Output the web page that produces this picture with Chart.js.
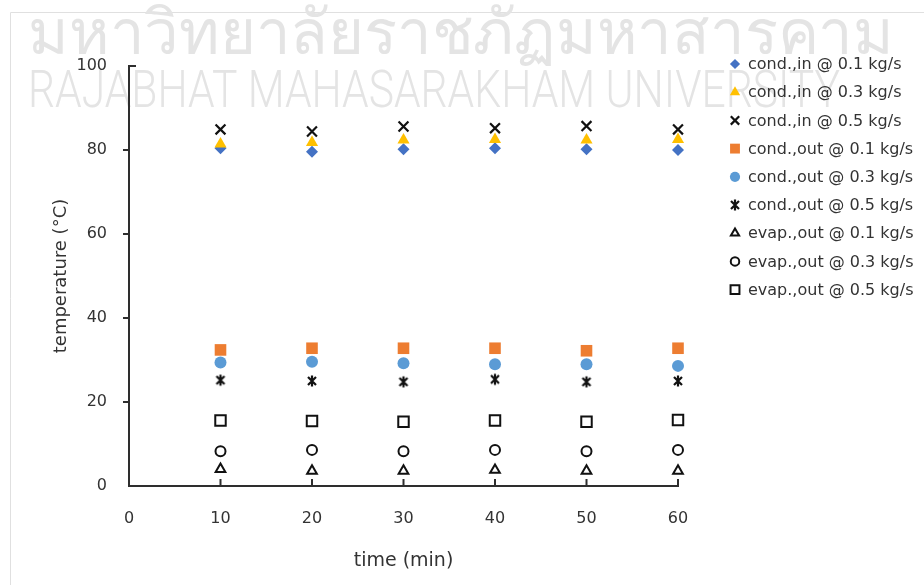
<!DOCTYPE html>
<html>
<head>
<meta charset="utf-8">
<script src="https://cdn.jsdelivr.net/npm/chart.js@4/dist/chart.umd.min.js"></script>
<style>
  html, body { margin: 0; padding: 0; background: #ffffff; }
  #wrap { width: 924px; height: 585px; position: relative; }
</style>
</head>
<body>
<div id="wrap"><canvas id="c" width="924" height="585"></canvas></div>
<script>
// time of measurement (min)
const times = [10, 20, 30, 40, 50, 60];

// temperatures (°C)
const condIn01  = [80.4, 79.6, 80.2, 80.4, 80.2, 80.0];
const condIn03  = [81.4, 81.8, 82.4, 82.5, 82.4, 82.5];
const condIn05  = [84.9, 84.4, 85.6, 85.2, 85.7, 84.9];
const condOut01 = [32.4, 32.8, 32.8, 32.8, 32.2, 32.8];
const condOut03 = [29.4, 29.6, 29.2, 29.0, 29.0, 28.6];
const condOut05 = [25.2, 25.0, 24.8, 25.4, 24.8, 25.0];
const evapOut01 = [4.0, 3.6, 3.6, 3.8, 3.6, 3.6];
const evapOut03 = [8.3, 8.6, 8.3, 8.6, 8.3, 8.6];
const evapOut05 = [15.6, 15.5, 15.3, 15.6, 15.3, 15.7];

const seriesLabels = [
  'cond.,in @ 0.1 kg/s', 'cond.,in @ 0.3 kg/s', 'cond.,in @ 0.5 kg/s',
  'cond.,out @ 0.1 kg/s', 'cond.,out @ 0.3 kg/s', 'cond.,out @ 0.5 kg/s',
  'evap.,out @ 0.1 kg/s', 'evap.,out @ 0.3 kg/s', 'evap.,out @ 0.5 kg/s'
];
const seriesValues = [condIn01, condIn03, condIn05, condOut01, condOut03, condOut05, evapOut01, evapOut03, evapOut05];

const xTicks = [0, 10, 20, 30, 40, 50, 60];
const yTicks = [0, 20, 40, 60, 80, 100];

// asterisk marker: an X crossed by a vertical stroke
function makeStar() {
  const cv = document.createElement('canvas');
  cv.width = 14; cv.height = 14;
  const g = cv.getContext('2d');
  g.strokeStyle = '#111';
  g.lineWidth = 2.2;
  g.lineCap = 'butt';
  g.beginPath();
  g.moveTo(3, 3); g.lineTo(11, 11);
  g.moveTo(11, 3); g.lineTo(3, 11);
  g.moveTo(7, 1.5); g.lineTo(7, 12.5);
  g.stroke();
  return cv;
}
const starImg = makeStar();

const styles = [
  { pointStyle: 'rectRot',  radius: 6,   bg: '#4472C4', border: '#4472C4', bw: 0 },
  { pointStyle: 'triangle', radius: 7,   bg: '#FFC000', border: '#FFC000', bw: 0 },
  { pointStyle: 'crossRot', radius: 7,   bg: '#111111', border: '#111111', bw: 2.2 },
  { pointStyle: 'rect',     radius: 8.2, bg: '#ED7D31', border: '#ED7D31', bw: 0 },
  { pointStyle: 'circle',   radius: 6,   bg: '#5B9BD5', border: '#5B9BD5', bw: 0 },
  { pointStyle: starImg,    radius: 7,   bg: '#111111', border: '#111111', bw: 0 },
  { pointStyle: 'triangle', radius: 5.6, bg: '#ffffff', border: '#111111', bw: 2 },
  { pointStyle: 'circle',   radius: 5,   bg: '#ffffff', border: '#111111', bw: 2 },
  { pointStyle: 'rect',     radius: 7.4, bg: '#ffffff', border: '#111111', bw: 2 }
];

const datasets = seriesValues.map((vals, i) => ({
  label: seriesLabels[i],
  data: times.map((t, k) => ({ x: t, y: vals[k] })),
  showLine: false,
  clip: false,
  pointStyle: styles[i].pointStyle,
  pointRadius: styles[i].radius,
  pointHoverRadius: styles[i].radius,
  pointBackgroundColor: styles[i].bg,
  pointBorderColor: styles[i].border,
  pointBorderWidth: styles[i].bw,
  backgroundColor: styles[i].bg,
  borderColor: styles[i].border,
  order: seriesValues.length - i
}));

const AXIS_COLOR = '#2e2e2e';
const TEXT_COLOR = '#333333';

// faint university banner behind the plot
const bannerPlugin = {
  id: 'banner',
  beforeDraw(chart) {
    const ctx = chart.ctx;
    ctx.save();
    ctx.strokeStyle = '#e0e0e0';
    ctx.lineWidth = 1;
    ctx.beginPath();
    ctx.moveTo(10.5, 585); ctx.lineTo(10.5, 12.5); ctx.lineTo(924, 12.5);
    ctx.stroke();

    ctx.fillStyle = '#e4e4e4';
    ctx.textBaseline = 'alphabetic';
    ctx.textAlign = 'left';
    ctx.font = '300 62px "Noto Sans", "DejaVu Sans", sans-serif';
    ctx.fillText('มหาวิทยาลัยราชภัฏมหาสารคาม', 28, 54, 866);
    ctx.font = '300 52px Roboto, "Liberation Sans", sans-serif';
    ctx.fillText('RAJABHAT MAHASARAKHAM UNIVERSITY', 28, 107, 812);
    ctx.restore();
  }
};

// axis lines, tick marks and the legend column
const decorPlugin = {
  id: 'decor',
  afterDatasetsDraw(chart) {
    const ctx = chart.ctx;
    const xs = chart.scales.x, ys = chart.scales.y;
    const ax = xs.getPixelForValue(0);
    const axEnd = xs.getPixelForValue(60);
    const ay = ys.getPixelForValue(0);
    const ptop = ys.getPixelForValue(100);
    ctx.save();
    ctx.strokeStyle = AXIS_COLOR;
    ctx.lineWidth = 2;
    ctx.beginPath();
    // value axis with a short stub at its top
    ctx.moveTo(ax + 7, ptop); ctx.lineTo(ax, ptop); ctx.lineTo(ax, ay);
    // time axis
    ctx.lineTo(axEnd + 1, ay);
    ctx.stroke();
    ctx.beginPath();
    // y ticks point outward
    yTicks.forEach(v => {
      if (v === 0 || v === 100) return;
      const py = ys.getPixelForValue(v);
      ctx.moveTo(ax - 6, py); ctx.lineTo(ax, py);
    });
    // x ticks point up into the plot
    xTicks.forEach(v => {
      if (v === 0) return;
      const px = xs.getPixelForValue(v);
      ctx.moveTo(px, ay); ctx.lineTo(px, ay - 7);
    });
    ctx.stroke();

    // legend
    const lx = 735, ly0 = 64, step = 28.2;
    ctx.font = '16px "DejaVu Sans", sans-serif';
    ctx.textAlign = 'left';
    ctx.textBaseline = 'middle';
    seriesLabels.forEach((lab, i) => {
      const st = styles[i];
      const y = ly0 + i * step;
      ctx.fillStyle = st.bg;
      ctx.strokeStyle = st.border;
      ctx.lineWidth = st.bw;
      Chart.helpers.drawPoint(ctx, {
        pointStyle: st.pointStyle,
        radius: st.radius * 0.85,
        rotation: 0,
        borderWidth: st.bw
      }, lx, y);
      ctx.fillStyle = TEXT_COLOR;
      ctx.fillText(lab, lx + 13, y + 1);
    });
    ctx.restore();
  }
};

new Chart(document.getElementById('c'), {
  type: 'scatter',
  data: { datasets },
  plugins: [bannerPlugin, decorPlugin],
  options: {
    responsive: false,
    animation: false,
    events: [],
    layout: { padding: { left: 0, top: 66, right: 246, bottom: 0 } },
    plugins: {
      legend: { display: false },
      tooltip: { enabled: false }
    },
    scales: {
      x: {
        type: 'linear',
        min: 0, max: 60,
        afterFit: s => { s.height = 99; },
        afterBuildTicks: s => { s.ticks = xTicks.map(v => ({ value: v })); },
        grid: { display: false, drawTicks: false },
        border: { display: false },
        ticks: {
          color: TEXT_COLOR,
          font: { family: '"DejaVu Sans", sans-serif', size: 16 },
          padding: 23
        },
        title: {
          display: true,
          text: 'time (min)',
          color: TEXT_COLOR,
          font: { family: '"DejaVu Sans", sans-serif', size: 19 },
          padding: { top: 0, bottom: 13 }
        }
      },
      y: {
        type: 'linear',
        min: 0, max: 100,
        afterFit: s => { s.width = 129; },
        afterBuildTicks: s => { s.ticks = yTicks.map(v => ({ value: v })); },
        grid: { display: false, drawTicks: false },
        border: { display: false },
        ticks: {
          color: TEXT_COLOR,
          font: { family: '"DejaVu Sans", sans-serif', size: 16 },
          padding: 22
        },
        title: {
          display: true,
          text: 'temperature (°C)',
          color: TEXT_COLOR,
          font: { family: '"DejaVu Sans", sans-serif', size: 18 },
          padding: { top: 51, bottom: 0 }
        }
      }
    }
  }
});
</script>
</body>
</html>
